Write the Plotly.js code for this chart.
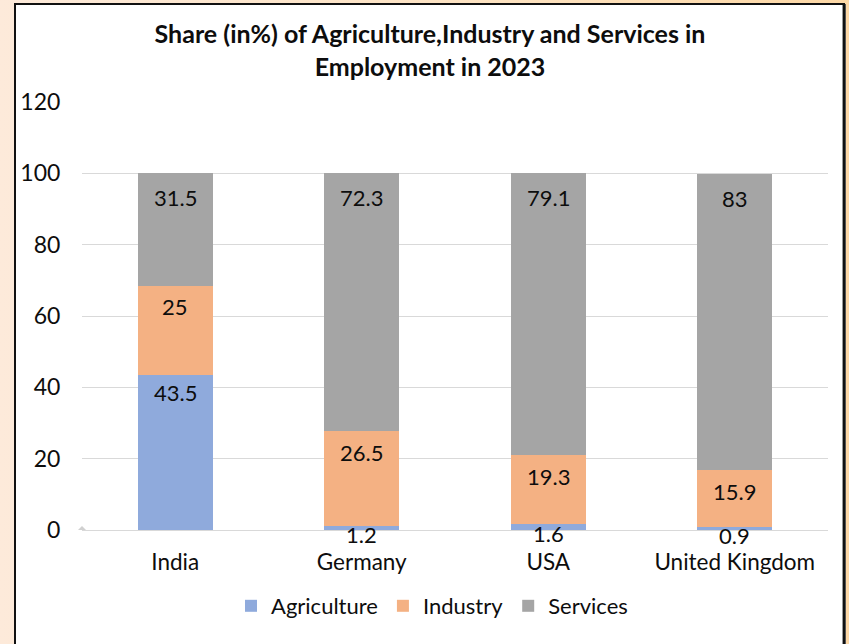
<!DOCTYPE html>
<html>
<head>
<meta charset="utf-8">
<script src="https://cdn.plot.ly/plotly-3.0.1.min.js"></script>
<style>
  html, body { margin:0; padding:0; width:849px; height:644px; overflow:hidden;
    background: linear-gradient(to right, #fdeada, #fde2c0 60%, #fdd8a6); }
  #frame { position:absolute; left:14px; top:3px; width:827px; height:700px;
    background:#fff; border:2px solid #111; box-shadow: inset -1px -1px 0 #999, 1px 1px 0 #555; }
  #chart { position:absolute; left:0; top:0; width:849px; height:644px; }
</style>
</head>
<body>
<div id="frame"></div>
<div id="chart"></div>
<script>
const categories = ["India", "Germany", "USA", "United Kingdom"];
const agriculture = [43.5, 1.2, 1.6, 0.9];
const industry = [25, 26.5, 19.3, 15.9];
const services = [31.5, 72.3, 79.1, 83];
const seriesNames = ["Agriculture", "Industry", "Services"];
const yTicks = [0, 20, 40, 60, 80, 100, 120];

const seriesValues = [agriculture, industry, services];
const colors = ["#8faadc", "#f4b183", "#a5a5a5"];
const labelFont = {family: "Lato, 'Open Sans', sans-serif", size: 22, color: "#0d0d0d"};

const traces = seriesValues.map((vals, i) => ({
  type: "bar",
  name: seriesNames[i],
  x: categories,
  y: vals,
  marker: {color: colors[i], line: {width: 0}},
  hoverinfo: "skip"
}));

// data labels placed just inside the top of each segment ("inside end")
const baseShift = [18, 21, 24];
const annotations = [];
const cum = categories.map(() => 0);
seriesValues.forEach((vals, i) => {
  vals.forEach((v, j) => {
    cum[j] += v;
    const shift = v < 5 ? 9 : baseShift[i];
    annotations.push({
      x: categories[j], y: cum[j], xref: "x", yref: "y",
      text: String(v), showarrow: false,
      yanchor: "middle", yshift: -shift,
      font: labelFont
    });
  });
});

const layout = {
  width: 849, height: 644,
  paper_bgcolor: "rgba(0,0,0,0)",
  plot_bgcolor: "rgba(0,0,0,0)",
  margin: {l: 82, r: 21, t: 102, b: 114},
  barmode: "stack",
  bargap: 0.6,
  showlegend: true,
  font: {family: "Lato, 'Open Sans', sans-serif", size: 22, color: "#0d0d0d"},
  title: {
    text: "<b>Share (in%) of Agriculture,Industry and Services in<br>Employment in 2023</b>",
    font: {family: "Lato, sans-serif", size: 25, color: "#0d0d0d"},
    xref: "container", x: 0.5065, xanchor: "center",
    yref: "container", y: 1 - 43/644, yanchor: "top"
  },
  xaxis: {
    type: "category",
    showgrid: false, showline: false, zeroline: false,
    ticks: "outside", ticklen: 12, tickcolor: "rgba(0,0,0,0)",
    tickfont: {size: 22.5, color: "#0d0d0d"}
  },
  yaxis: {
    range: [0, 120], tickvals: yTicks, ticktext: yTicks.map(String),
    showgrid: true, gridcolor: "#d9d9d9", gridwidth: 1,
    zeroline: true, zerolinecolor: "#d9d9d9", zerolinewidth: 1,
    showline: false,
    ticks: "outside", ticklen: 16, tickcolor: "rgba(0,0,0,0)",
    tickfont: {size: 23, color: "#0d0d0d"}
  },
  legend: {
    orientation: "h",
    xref: "container", yref: "container",
    x: 231/849, xanchor: "left",
    y: 1 - 606/644, yanchor: "middle",
    font: {size: 22, color: "#0d0d0d"},
    itemwidth: 30, traceorder: "normal",
    bgcolor: "rgba(0,0,0,0)"
  },
  shapes: [{
    type: "path", xref: "paper", yref: "y",
    xsizemode: "pixel", ysizemode: "pixel", xanchor: 0, yanchor: 0,
    path: "M-4,0 L0,4 L4,0 L0,-4 Z",
    fillcolor: "#d0d0d0", line: {width: 0}
  }],
  annotations: annotations
};

Plotly.newPlot("chart", traces, layout, {displayModeBar: false, staticPlot: true});
</script>
</body>
</html>
